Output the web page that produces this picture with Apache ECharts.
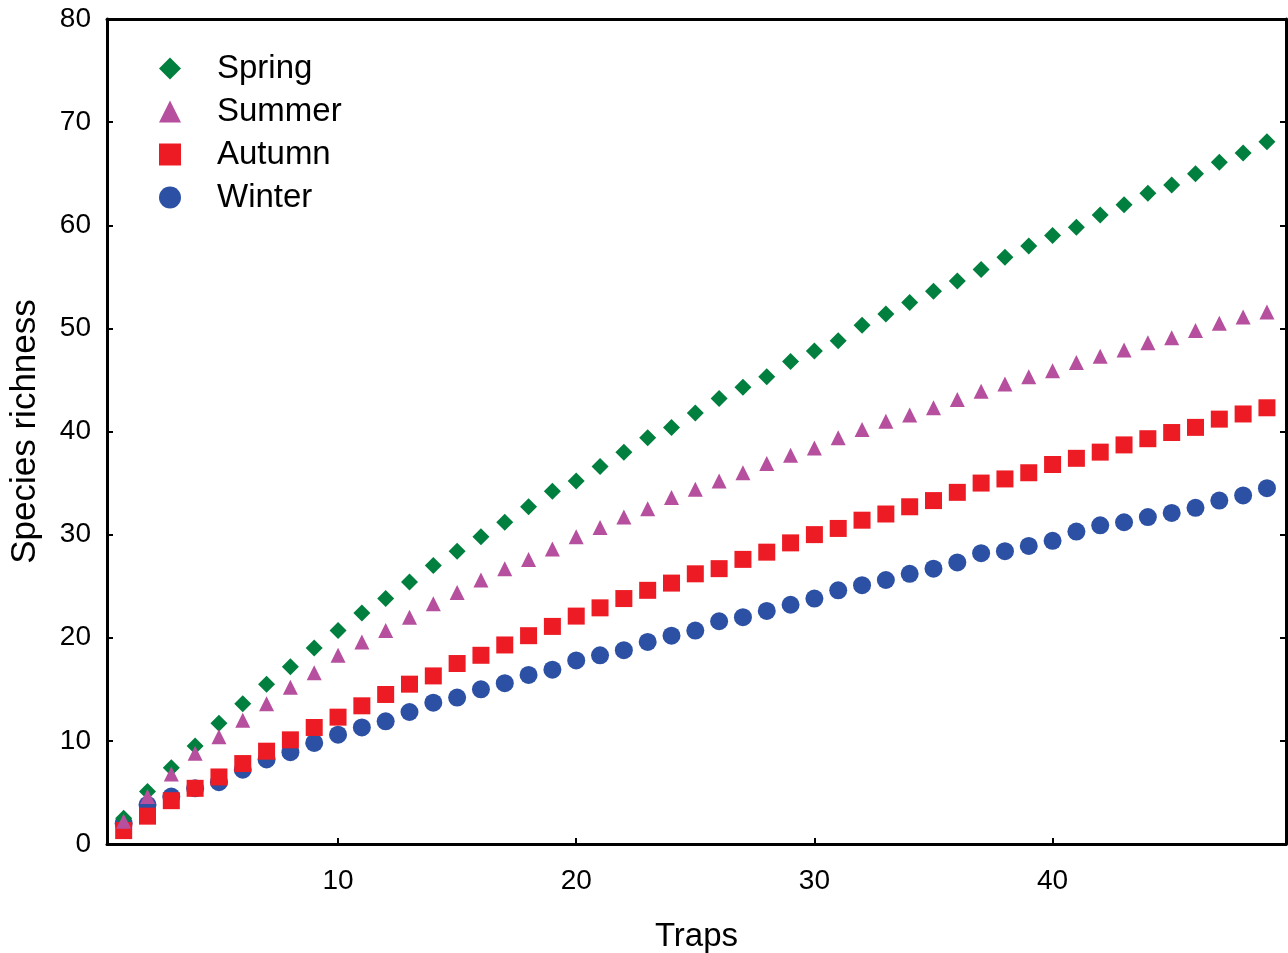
<!DOCTYPE html>
<html>
<head>
<meta charset="utf-8">
<script src="https://cdn.jsdelivr.net/npm/echarts@6/dist/echarts.min.js"></script>
<style>
  html, body { margin: 0; padding: 0; background: #fff; }
  #chart { width: 1288px; height: 953px; }
</style>
</head>
<body>
<div id="chart"></div>
<script>
// trap number 1..49
var traps = [];
for (var i = 1; i <= 49; i++) traps.push(i);

var spring = [2.5, 5.1, 7.4, 9.5, 11.7, 13.6, 15.5, 17.2, 19.0, 20.7,
  22.4, 23.8, 25.4, 27.0, 28.4, 29.8, 31.2, 32.7, 34.2, 35.2,
  36.6, 38.0, 39.4, 40.4, 41.8, 43.2, 44.3, 45.3, 46.8, 47.8,
  48.8, 50.3, 51.4, 52.5, 53.6, 54.6, 55.7, 56.9, 58.0, 59.0,
  59.8, 61.0, 62.0, 63.1, 63.9, 65.0, 66.1, 67.0, 68.1]
var summer = [2.2, 4.6, 6.8, 8.8, 10.4, 12.0, 13.6, 15.2, 16.6, 18.3,
  19.6, 20.7, 22.0, 23.3, 24.4, 25.6, 26.7, 27.6, 28.6, 29.8,
  30.7, 31.7, 32.5, 33.6, 34.4, 35.2, 36.0, 36.9, 37.7, 38.4,
  39.4, 40.2, 41.0, 41.6, 42.3, 43.1, 43.9, 44.6, 45.3, 45.9,
  46.7, 47.3, 47.9, 48.6, 49.1, 49.8, 50.5, 51.1, 51.6]
var autumn = [1.3, 2.7, 4.2, 5.4, 6.5, 7.8, 9.0, 10.1, 11.3, 12.3,
  13.4, 14.5, 15.5, 16.3, 17.5, 18.3, 19.3, 20.2, 21.1, 22.1,
  22.9, 23.8, 24.6, 25.3, 26.2, 26.7, 27.6, 28.3, 29.2, 30.0,
  30.6, 31.4, 32.0, 32.7, 33.3, 34.1, 35.0, 35.4, 36.0, 36.8,
  37.4, 38.0, 38.7, 39.3, 39.9, 40.4, 41.2, 41.7, 42.3]
var winter = [2.0, 3.8, 4.6, 5.4, 6.0, 7.2, 8.2, 8.9, 9.8, 10.6,
  11.3, 11.9, 12.8, 13.7, 14.2, 15.0, 15.6, 16.4, 16.9, 17.8,
  18.3, 18.8, 19.6, 20.2, 20.7, 21.6, 22.0, 22.6, 23.2, 23.8,
  24.6, 25.1, 25.6, 26.2, 26.7, 27.3, 28.2, 28.4, 28.9, 29.4,
  30.3, 30.9, 31.2, 31.7, 32.1, 32.6, 33.3, 33.8, 34.5]

var xTicks = [10, 20, 30, 40]

function pairs (ys) {
  return traps.map(function (t, i) { return [t, ys[i]] })
}

var font = 'Liberation Sans, Arial, sans-serif'
var chart = echarts.init(document.getElementById('chart'))

chart.setOption({
  animation: false,
  backgroundColor: '#fff',
  textStyle: { fontFamily: font, color: '#000' },
  grid: { left: 107, right: 2, top: 19, bottom: 109, outerBoundsMode: 'none' },
  legend: {
    orient: 'vertical',
    left: 159,
    top: 52,
    padding: 0,
    itemWidth: 22,
    itemHeight: 22,
    itemGap: 10,
    textStyle: { fontFamily: font, fontSize: 33, lineHeight: 33, color: '#000', padding: [0, 0, 0, 31] },
    data: ['Spring', 'Summer', 'Autumn', 'Winter']
  },
  xAxis: [
    {
      type: 'value',
      min: 0.3,
      max: 49.8,
      name: 'Traps',
      nameLocation: 'middle',
      nameGap: 76,
      nameTextStyle: { fontFamily: font, fontSize: 33, color: '#000' },
      splitLine: { show: false },
      axisLine: { show: true, onZero: false, lineStyle: { color: '#000', width: 3 } },
      axisTick: { show: true, inside: true, length: 6, customValues: xTicks, lineStyle: { color: '#000', width: 2 } },
      axisLabel: { fontFamily: font, fontSize: 28, color: '#000', margin: 23, customValues: xTicks }
    },
    {
      type: 'value',
      position: 'top',
      min: 0.3,
      max: 49.8,
      splitLine: { show: false },
      axisLine: { show: true, onZero: false, lineStyle: { color: '#000', width: 3 } },
      axisTick: { show: false },
      axisLabel: { show: false }
    }
  ],
  yAxis: [
    {
      type: 'value',
      min: 0,
      max: 80,
      interval: 10,
      name: 'Species richness',
      nameLocation: 'middle',
      nameGap: 64,
      nameTextStyle: { fontFamily: font, fontSize: 35, color: '#000' },
      splitLine: { show: false },
      axisLine: { show: true, onZero: false, lineStyle: { color: '#000', width: 3 } },
      axisTick: { show: true, inside: true, length: 6, lineStyle: { color: '#000', width: 2 } },
      axisLabel: { fontFamily: font, fontSize: 28, color: '#000', margin: 16 }
    },
    {
      type: 'value',
      position: 'right',
      min: 0,
      max: 80,
      interval: 10,
      splitLine: { show: false },
      axisLine: { show: true, onZero: false, lineStyle: { color: '#000', width: 3 } },
      axisTick: { show: true, inside: true, length: 6, lineStyle: { color: '#000', width: 2 } },
      axisLabel: { show: false }
    }
  ],
  series: [
    {
      name: 'Spring',
      type: 'scatter',
      symbol: 'diamond',
      symbolSize: 17,
      z: 3,
      itemStyle: { color: '#007f3e', opacity: 1 },
      data: pairs(spring)
    },
    {
      name: 'Summer',
      type: 'scatter',
      symbol: 'triangle',
      symbolSize: 15,
      z: 5,
      itemStyle: { color: '#b64f9d', opacity: 1 },
      data: pairs(summer)
    },
    {
      name: 'Autumn',
      type: 'scatter',
      symbol: 'rect',
      symbolSize: 17,
      z: 4,
      itemStyle: { color: '#ed1c24', opacity: 1 },
      data: pairs(autumn)
    },
    {
      name: 'Winter',
      type: 'scatter',
      symbol: 'circle',
      symbolSize: 18,
      z: 2,
      itemStyle: { color: '#2c50a3', opacity: 1 },
      data: pairs(winter)
    }
  ]
})
</script>
</body>
</html>
